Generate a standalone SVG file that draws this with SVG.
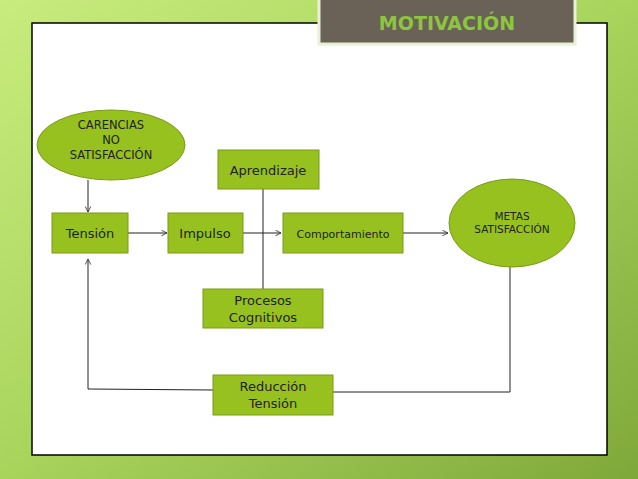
<svg xmlns="http://www.w3.org/2000/svg" width="638" height="479" viewBox="0 0 638 479">
<defs>
<linearGradient id="bg" x1="0" y1="0" x2="1" y2="1"><stop offset="0" stop-color="#c8ec7e"/><stop offset="0.5" stop-color="#a8d45c"/><stop offset="1" stop-color="#7fa83a"/></linearGradient>
<marker id="ar" viewBox="0 0 10 10" refX="9" refY="5" markerWidth="7" markerHeight="7" orient="auto"><path d="M1,1 L9,5 L1,9" fill="none" stroke="#333" stroke-width="1.2"/></marker>
</defs>
<style>
.b{fill:#96c11f;stroke:#7a9c18;stroke-width:1}
.t{font-family:"Century Gothic","DejaVu Sans","Liberation Sans",sans-serif;fill:#222;text-anchor:middle}
.c{fill:none;stroke:#222;stroke-width:1}
</style>
<rect width="638" height="479" fill="url(#bg)"/>
<rect x="32" y="23" width="575" height="432" fill="#fff" stroke="#000" stroke-width="1.5"/>
<g id="title"><rect x="319" y="-2" width="256" height="46" fill="#6b6257" stroke="#e8f0d8" stroke-width="3"/><text x="447" y="30" font-family="'DejaVu Sans',sans-serif" font-weight="bold" font-size="19" fill="#8cc63f" text-anchor="middle">MOTIVACIÓN</text></g>
<g id="connectors">
<line class="c" x1="88" y1="180" x2="88" y2="212" marker-end="url(#ar)"/>
<line class="c" x1="128" y1="233" x2="167" y2="233" marker-end="url(#ar)"/>
<line class="c" x1="243" y1="233" x2="281" y2="233" marker-end="url(#ar)"/>
<line class="c" x1="263" y1="189" x2="263" y2="289"/>
<line class="c" x1="403" y1="233" x2="448" y2="233" marker-end="url(#ar)"/>
<polyline class="c" points="510,267 510,392 333,392"/>
<polyline class="c" points="213,390 88,389 88,259" marker-end="url(#ar)"/>
</g>
<g id="carencias"><ellipse class="b" cx="111" cy="145" rx="74" ry="35"/><text class="t" font-size="11.5"><tspan x="111" y="129">CARENCIAS</tspan><tspan x="111" y="144">NO</tspan><tspan x="111" y="159">SATISFACCIÓN</tspan></text></g>
<g id="tension"><rect class="b" x="52" y="213" width="76" height="40"/><text class="t" x="90" y="238" font-size="13">Tensión</text></g>
<g id="impulso"><rect class="b" x="168" y="213" width="75" height="40"/><text class="t" x="205" y="238" font-size="13">Impulso</text></g>
<g id="comportamiento"><rect class="b" x="283" y="213" width="120" height="40"/><text class="t" x="343" y="238" font-size="11">Comportamiento</text></g>
<g id="aprendizaje"><rect class="b" x="218" y="150" width="101" height="39"/><text class="t" x="268" y="175" font-size="13">Aprendizaje</text></g>
<g id="procesos"><rect class="b" x="203" y="289" width="120" height="39"/><text class="t" font-size="13"><tspan x="263" y="305">Procesos</tspan><tspan x="263" y="322">Cognitivos</tspan></text></g>
<g id="reduccion"><rect class="b" x="213" y="375" width="120" height="40"/><text class="t" font-size="13"><tspan x="273" y="391">Reducción</tspan><tspan x="273" y="408">Tensión</tspan></text></g>
<g id="metas"><ellipse class="b" cx="512" cy="223" rx="63" ry="44"/><text class="t" font-size="10.5"><tspan x="512" y="220">METAS</tspan><tspan x="512" y="233">SATISFACCIÓN</tspan></text></g>
</svg>
